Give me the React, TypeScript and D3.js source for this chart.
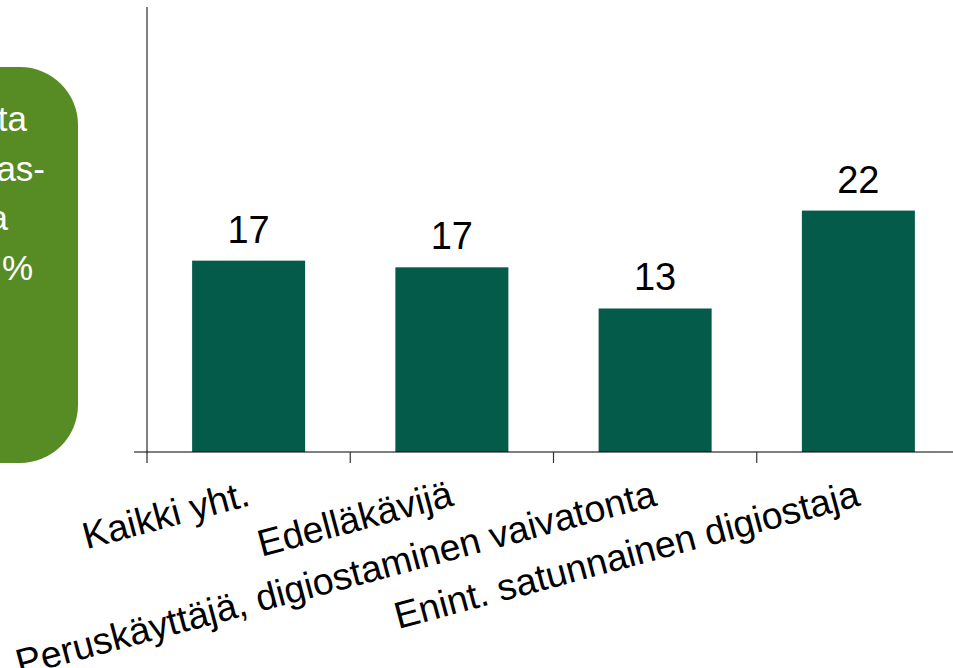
import React from 'react';
import * as d3 from 'd3';

const categories = [
    'Kaikki yht.',
    'Edelläkävijä',
    'Peruskäyttäjä, digiostaminen vaivatonta',
    'Enint. satunnainen digiostaja'
];
const values = [17.2, 16.6, 12.9, 21.7];
// fragments of the side note that is cut by the left edge
const noteLines = ['ta', 'as-', 'a', '%'];
const noteEnds = [27, 45, 8, 33];

const width = 953;
const height = 668;

export default function App() {
    const x = d3.scaleBand().domain(categories).range([147, 960]).paddingInner(0.444).paddingOuter(0.222);
    const y = d3.scaleLinear().domain([0, 40]).range([452, 7]);

    const step = x.step();
    const gap = (step - x.bandwidth()) / 2;
    const tickXs = categories.map(c => x(c) - gap);

    const bars = categories.map((c, i) => (
        <rect key={c} x={x(c)} y={y(values[i])} width={x.bandwidth()} height={y(0) - y(values[i])} fill="#045b49" />
    ));

    const valueLabels = categories.map((c, i) => (
        <text key={c} x={x(c) + x.bandwidth() / 2} y={y(values[i]) - 18} textAnchor="middle" fontSize={38} fill="#000">
            {Math.round(values[i])}
        </text>
    ));

    const catLabels = categories.map(c => (
        <text key={c} transform={`translate(${x(c) + x.bandwidth() / 2 + 3},505) rotate(-15)`} textAnchor="end" fontSize={37.5} fill="#000">
            {c}
        </text>
    ));

    return (
        <svg width={width} height={height} style={{ position: 'absolute', left: 0, top: 0, fontFamily: 'Liberation Sans, Arial, sans-serif' }}>
            <rect x={-80} y={67} width={158} height={396} rx={58} ry={58} fill="#568c23" />
            {noteLines.map((t, i) => (
                <text key={i} x={noteEnds[i]} y={131 + i * 49.5} textAnchor="end" fontSize={35} fill="#fff">{t}</text>
            ))}
            <g>{bars}</g>
            <line x1={147} x2={147} y1={7} y2={463} stroke="#7f7f7f" strokeWidth={2} />
            <line x1={134} x2={width} y1={y(0)} y2={y(0)} stroke="#000" strokeWidth={1.2} />
            {tickXs.slice(1).map((tx, i) => (
                <line key={i} x1={tx} x2={tx} y1={y(0)} y2={463} stroke="#333" strokeWidth={1.2} />
            ))}
            <g>{valueLabels}</g>
            <g>{catLabels}</g>
        </svg>
    );
}
